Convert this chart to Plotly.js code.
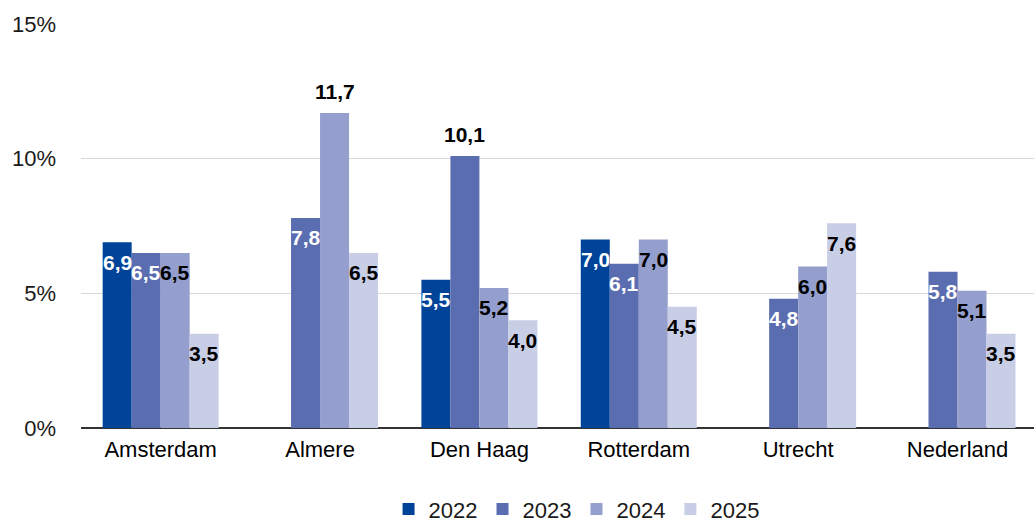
<!DOCTYPE html>
<html>
<head>
<meta charset="utf-8">
<script src="https://cdn.plot.ly/plotly-3.0.1.min.js"></script>
<style>
  html, body { margin: 0; padding: 0; background: #ffffff; }
  #chart { width: 1034px; height: 525px; }
</style>
</head>
<body>
<div id="chart"></div>
<script>
// ---- data ----
var categories = ['Amsterdam', 'Almere', 'Den Haag', 'Rotterdam', 'Utrecht', 'Nederland'];
var seriesNames = ['2022', '2023', '2024', '2025'];
var values2022 = [6.9, null, 5.5, 7.0, null, null];
var values2023 = [6.5, 7.8, 10.1, 6.1, 4.8, 5.8];
var values2024 = [6.5, 11.7, 5.2, 7.0, 6.0, 5.1];
var values2025 = [3.5, 6.5, 4.0, 4.5, 7.6, 3.5];
var yTickVals = [0, 5, 10, 15];
var yTickText = ['0%', '5%', '10%', '15%'];

// ---- styling ----
var seriesValues = [values2022, values2023, values2024, values2025];
var colors = ['#00449A', '#5B6DB1', '#959FCD', '#C9CEE7'];
var insideLabelColors = ['#FFFFFF', '#FFFFFF', '#000000', '#000000'];
var FONT = '"Liberation Sans", Arial, sans-serif';

var W = 1034, H = 525;
var margin = {l: 81, r: 0, t: 24, b: 97};
var xRange = [-0.5, 5.48];
var bargap = 0.272;

var traces = seriesValues.map(function (vals, i) {
  return {
    type: 'bar',
    name: seriesNames[i],
    x: categories,
    y: vals,
    marker: {color: colors[i]},
    hoverinfo: 'x+y'
  };
});

// data labels as annotations, attached to each bar's top
var plotW = W - margin.l - margin.r;
var catPx = plotW / (xRange[1] - xRange[0]);
var barPx = catPx * (1 - bargap) / seriesValues.length;
var annotations = [];
seriesValues.forEach(function (vals, i) {
  vals.forEach(function (v, j) {
    if (v === null) return;
    var outside = v > 10;
    annotations.push({
      x: categories[j],
      y: v,
      xref: 'x', yref: 'y',
      text: v.toFixed(1).replace('.', ','),
      showarrow: false,
      xshift: (i - (seriesValues.length - 1) / 2) * barPx,
      yshift: outside ? 21 : -20,
      yanchor: 'middle',
      font: {family: FONT, size: 21, color: outside ? '#000000' : insideLabelColors[i], weight: 'bold'}
    });
  });
});

var layout = {
  width: W, height: H,
  margin: margin,
  paper_bgcolor: '#ffffff',
  plot_bgcolor: '#ffffff',
  barmode: 'group',
  bargap: bargap,
  bargroupgap: 0,
  font: {family: FONT, size: 22, color: '#000000'},
  xaxis: {
    type: 'category',
    range: xRange,
    showgrid: false,
    showline: false,
    zeroline: false,
    ticks: '',
    ticklabelstandoff: 6,
    automargin: false,
    tickfont: {family: FONT, size: 22, color: '#000000'}
  },
  yaxis: {
    range: [0, 15],
    tickvals: yTickVals,
    ticktext: yTickText,
    showgrid: true,
    gridcolor: '#D9D9D9',
    gridwidth: 1,
    zeroline: true,
    zerolinecolor: '#333333',
    zerolinewidth: 1.5,
    showline: false,
    ticks: '',
    ticklabelstandoff: 24,
    automargin: false,
    tickfont: {family: FONT, size: 22, color: '#1a1a1a'}
  },
  showlegend: true,
  legend: {
    orientation: 'h',
    xref: 'paper', x: 0.52, xanchor: 'center',
    yref: 'container', y: 0.03, yanchor: 'middle',
    font: {family: FONT, size: 22, color: '#1a1a1a'},
    traceorder: 'normal',
    itemclick: false
  },
  annotations: annotations
};

Plotly.newPlot('chart', traces, layout, {displayModeBar: false, staticPlot: true});
</script>
</body>
</html>
